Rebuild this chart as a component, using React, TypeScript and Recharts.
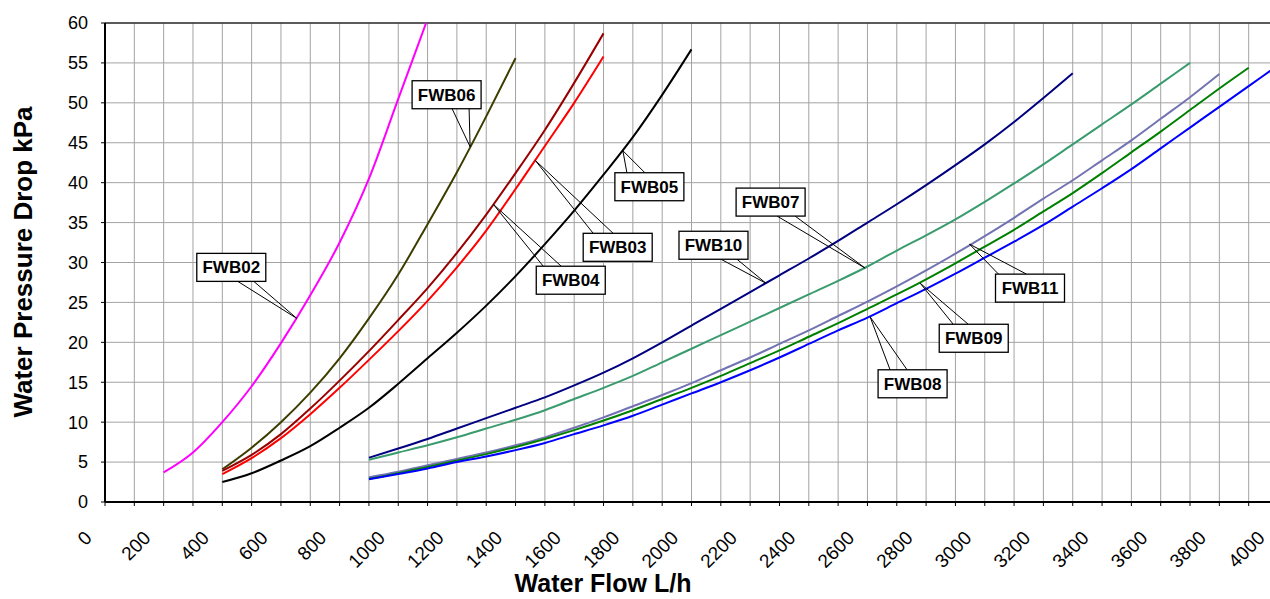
import React from 'react';
import { LineChart, Line, XAxis, YAxis, CartesianGrid, ReferenceDot, ReferenceLine } from 'recharts';

const xTicks = [0, 100, 200, 300, 400, 500, 600, 700, 800, 900, 1000, 1100, 1200, 1300, 1400, 1500, 1600, 1700, 1800, 1900, 2000, 2100, 2200, 2300, 2400, 2500, 2600, 2700, 2800, 2900, 3000, 3100, 3200, 3300, 3400, 3500, 3600, 3700, 3800, 3900, 4000];
const yTicks = [0, 5, 10, 15, 20, 25, 30, 35, 40, 45, 50, 55, 60];

const flowFWB02 = [200, 300, 400, 500, 600, 700, 800, 900, 1000, 1100];
const dropFWB02 = [3.7, 6.2, 10.0, 14.5, 19.9, 25.9, 32.5, 40.5, 50.5, 60.5];

const flowFWB03 = [400, 500, 600, 700, 800, 900, 1000, 1100, 1200, 1300, 1400, 1500, 1600, 1700];
const dropFWB03 = [3.5, 5.5, 8.0, 11.0, 14.3, 17.8, 21.4, 25.2, 29.4, 34.0, 39.2, 44.6, 50.0, 55.8];

const flowFWB04 = [400, 500, 600, 700, 800, 900, 1000, 1100, 1200, 1300, 1400, 1500, 1600, 1700];
const dropFWB04 = [3.9, 5.9, 8.5, 11.7, 15.2, 18.9, 22.8, 26.8, 31.2, 36.0, 41.2, 46.6, 52.5, 58.7];

const flowFWB05 = [400, 500, 600, 700, 800, 900, 1000, 1100, 1200, 1300, 1400, 1500, 1600, 1700, 1800, 1900, 2000];
const dropFWB05 = [2.5, 3.6, 5.2, 7.0, 9.3, 11.8, 14.8, 18.0, 21.2, 24.6, 28.3, 32.3, 36.5, 41.0, 45.7, 51.0, 56.7];

const flowFWB06 = [400, 500, 600, 700, 800, 900, 1000, 1100, 1200, 1300, 1400];
const dropFWB06 = [4.1, 6.8, 10.0, 13.7, 18.0, 23.0, 28.5, 34.8, 41.3, 48.3, 55.6];

const flowFWB07 = [900, 1000, 1100, 1200, 1300, 1400, 1500, 1600, 1700, 1800, 1900, 2000, 2100, 2200, 2300, 2400, 2500, 2600, 2700, 2800, 2900, 3000, 3100, 3200, 3300, 3400, 3500, 3600, 3700];
const dropFWB07 = [5.3, 6.2, 7.1, 8.1, 9.2, 10.3, 11.5, 12.9, 14.3, 15.8, 17.5, 19.2, 20.9, 22.6, 24.3, 26.0, 27.7, 29.5, 31.5, 33.4, 35.4, 37.6, 39.9, 42.3, 44.8, 47.3, 49.8, 52.4, 55.0];

const flowFWB08 = [900, 1000, 1100, 1200, 1300, 1400, 1500, 1600, 1700, 1800, 1900, 2000, 2100, 2200, 2300, 2400, 2500, 2600, 2700, 2800, 2900, 3000, 3100, 3200, 3300, 3400, 3500, 3600, 3700, 3800, 3900, 4000];
const dropFWB08 = [2.84, 3.5, 4.2, 5.0, 5.7, 6.5, 7.4, 8.5, 9.6, 10.8, 12.2, 13.6, 15.0, 16.5, 18.1, 19.8, 21.5, 23.1, 24.9, 26.7, 28.6, 30.6, 32.6, 34.7, 37.0, 39.3, 41.7, 44.3, 46.9, 49.5, 52.1, 54.7];

const flowFWB09 = [900, 1000, 1100, 1200, 1300, 1400, 1500, 1600, 1700, 1800, 1900, 2000, 2100, 2200, 2300, 2400, 2500, 2600, 2700, 2800, 2900, 3000, 3100, 3200, 3300, 3400, 3500, 3600, 3700, 3800, 3900];
const dropFWB09 = [2.9, 3.6, 4.4, 5.2, 6.0, 6.9, 7.9, 9.0, 10.2, 11.5, 12.9, 14.3, 15.8, 17.4, 19.0, 20.7, 22.4, 24.2, 26.0, 27.9, 29.9, 32.0, 34.1, 36.4, 38.7, 41.2, 43.8, 46.4, 49.1, 51.8, 54.4];

const flowFWB10 = [900, 1000, 1100, 1200, 1300, 1400, 1500, 1600, 1700, 1800, 1900, 2000, 2100, 2200, 2300, 2400, 2500, 2600, 2700, 2800, 2900, 3000, 3100, 3200, 3300];
const dropFWB10 = [5.55, 6.7, 7.9, 9.2, 10.5, 11.8, 13.1, 14.6, 16.2, 18.0, 20.0, 22.1, 24.2, 26.3, 28.4, 30.5, 32.7, 35.0, 37.3, 39.7, 42.2, 44.8, 47.6, 50.6, 53.7];

const flowFWB11 = [900, 1000, 1100, 1200, 1300, 1400, 1500, 1600, 1700, 1800, 1900, 2000, 2100, 2200, 2300, 2400, 2500, 2600, 2700, 2800, 2900, 3000, 3100, 3200, 3300, 3400, 3500, 3600, 3700, 3800];
const dropFWB11 = [3.1, 3.8, 4.6, 5.4, 6.2, 7.1, 8.1, 9.3, 10.6, 12.0, 13.4, 14.9, 16.5, 18.1, 19.8, 21.5, 23.3, 25.1, 27.0, 29.0, 31.1, 33.3, 35.6, 38.0, 40.3, 42.8, 45.3, 48.0, 50.7, 53.6];

const zip = (xs: number[], ys: number[]) => xs.map((x, i) => ({ x, y: ys[i] }));

const series = [
  { name: 'FWB02', color: '#ff00ff', data: zip(flowFWB02, dropFWB02) },
  { name: 'FWB06', color: '#3d3d00', data: zip(flowFWB06, dropFWB06) },
  { name: 'FWB04', color: '#990000', data: zip(flowFWB04, dropFWB04) },
  { name: 'FWB03', color: '#ff0000', data: zip(flowFWB03, dropFWB03) },
  { name: 'FWB05', color: '#000000', data: zip(flowFWB05, dropFWB05) },
  { name: 'FWB10', color: '#000080', data: zip(flowFWB10, dropFWB10) },
  { name: 'FWB07', color: '#3a9c6e', data: zip(flowFWB07, dropFWB07) },
  { name: 'FWB11', color: '#7373b3', data: zip(flowFWB11, dropFWB11) },
  { name: 'FWB09', color: '#008000', data: zip(flowFWB09, dropFWB09) },
  { name: 'FWB08', color: '#0000ff', data: zip(flowFWB08, dropFWB08) },
];

// callouts: anchor in data units, box/wedge offsets in px relative to the anchor
const callouts = [
  { name: 'FWB02', x: 654, y: 23.0, bx: -100, by: -65, w1: [-59, -37], w2: [-43, -37] },
  { name: 'FWB06', x: 1245, y: 44.5, bx: -58, by: -66, w1: [-18, -38], w2: [-1, -38] },
  { name: 'FWB04', x: 1324, y: 37.3, bx: 43, by: 62, w1: [50, 62], w2: [68, 62] },
  { name: 'FWB03', x: 1467, y: 42.8, bx: 48, by: 73, w1: [58, 73], w2: [78, 73] },
  { name: 'FWB05', x: 1766, y: 44.0, bx: -8, by: 22, w1: [4, 22], w2: [22, 22] },
  { name: 'FWB10', x: 2254, y: 27.4, bx: -87, by: -52, w1: [-45, -24], w2: [-29, -24] },
  { name: 'FWB07', x: 2592, y: 29.3, bx: -129, by: -80, w1: [-88, -52], w2: [-70, -52] },
  { name: 'FWB08', x: 2609, y: 23.2, bx: 8, by: 53, w1: [20, 53], w2: [37, 53] },
  { name: 'FWB09', x: 2780, y: 27.4, bx: 19, by: 41, w1: [33, 41], w2: [48, 41] },
  { name: 'FWB11', x: 2948, y: 32.3, bx: 26, by: 30, w1: [29, 30], w2: [57, 30] },
];

const BOX_W = 69;
const BOX_H = 28;

const XTick = (props: any) => {
  const { x, payload } = props;
  if (payload.value % 200 !== 0) return null;
  const ex = x - 12;
  const ey = 539;
  return (
    <text x={ex} y={ey} transform={`rotate(-45 ${ex} ${ey})`} textAnchor="end" fontSize={19} fill="#000">
      {payload.value}
    </text>
  );
};

const makeCallout = (c: any) => (props: any) => {
  const { cx, cy } = props;
  return (
    <g>
      <polyline
        points={`${cx + c.w1[0]},${cy + c.w1[1]} ${cx},${cy} ${cx + c.w2[0]},${cy + c.w2[1]}`}
        fill="none"
        stroke="#000"
        strokeWidth={1}
      />
      <rect x={cx + c.bx} y={cy + c.by} width={BOX_W} height={BOX_H} fill="#fff" stroke="#000" strokeWidth={1.3} />
      <text x={cx + c.bx + BOX_W / 2} y={cy + c.by + 20} textAnchor="middle" fontSize={17} fontWeight="bold" fill="#000">
        {c.name}
      </text>
    </g>
  );
};

export default function App() {
  return (
    <div style={{ position: 'absolute', left: 0, top: 0, width: 1270, height: 599, overflow: 'hidden', background: '#fff' }}>
      <LineChart
        width={1290}
        height={599}
        margin={{ top: 23, right: 12, bottom: 0, left: 0 }}
        style={{ fontFamily: '"Liberation Sans", Arial, sans-serif' }}
      >
        <CartesianGrid stroke="#a3a3a3" strokeWidth={1} />
        <XAxis
          type="number"
          dataKey="x"
          domain={[0, 4000]}
          ticks={xTicks}
          interval={0}
          height={97}
          tickSize={4}
          tick={<XTick />}
          axisLine={{ stroke: '#000', strokeWidth: 2 }}
          tickLine={{ stroke: '#000' }}
          label={() => (
            <text x={603} y={592} textAnchor="middle" fontSize={25} fontWeight="bold" fill="#000">
              Water Flow L/h
            </text>
          )}
        />
        <YAxis
          type="number"
          domain={[0, 60]}
          ticks={yTicks}
          interval={0}
          allowDataOverflow
          width={105}
          tickSize={4}
          tickMargin={13}
          tick={{ fill: '#000', fontSize: 18 }}
          axisLine={{ stroke: '#000', strokeWidth: 2 }}
          tickLine={{ stroke: '#000' }}
          label={() => (
            <text transform="translate(32 262) rotate(-90)" textAnchor="middle" fontSize={26} fontWeight="bold" fill="#000">
              Water Pressure Drop kPa
            </text>
          )}
        />
        <ReferenceLine y={60} stroke="#333" strokeWidth={1.5} />
        {series.map((s) => (
          <Line
            key={s.name}
            data={s.data}
            dataKey="y"
            name={s.name}
            type="monotone"
            stroke={s.color}
            strokeWidth={2}
            dot={false}
            activeDot={false}
            isAnimationActive={false}
          />
        ))}
        {callouts.map((c) => (
          <ReferenceDot key={c.name} x={c.x} y={c.y} r={0} ifOverflow="visible" shape={makeCallout(c)} />
        ))}
      </LineChart>
    </div>
  );
}
